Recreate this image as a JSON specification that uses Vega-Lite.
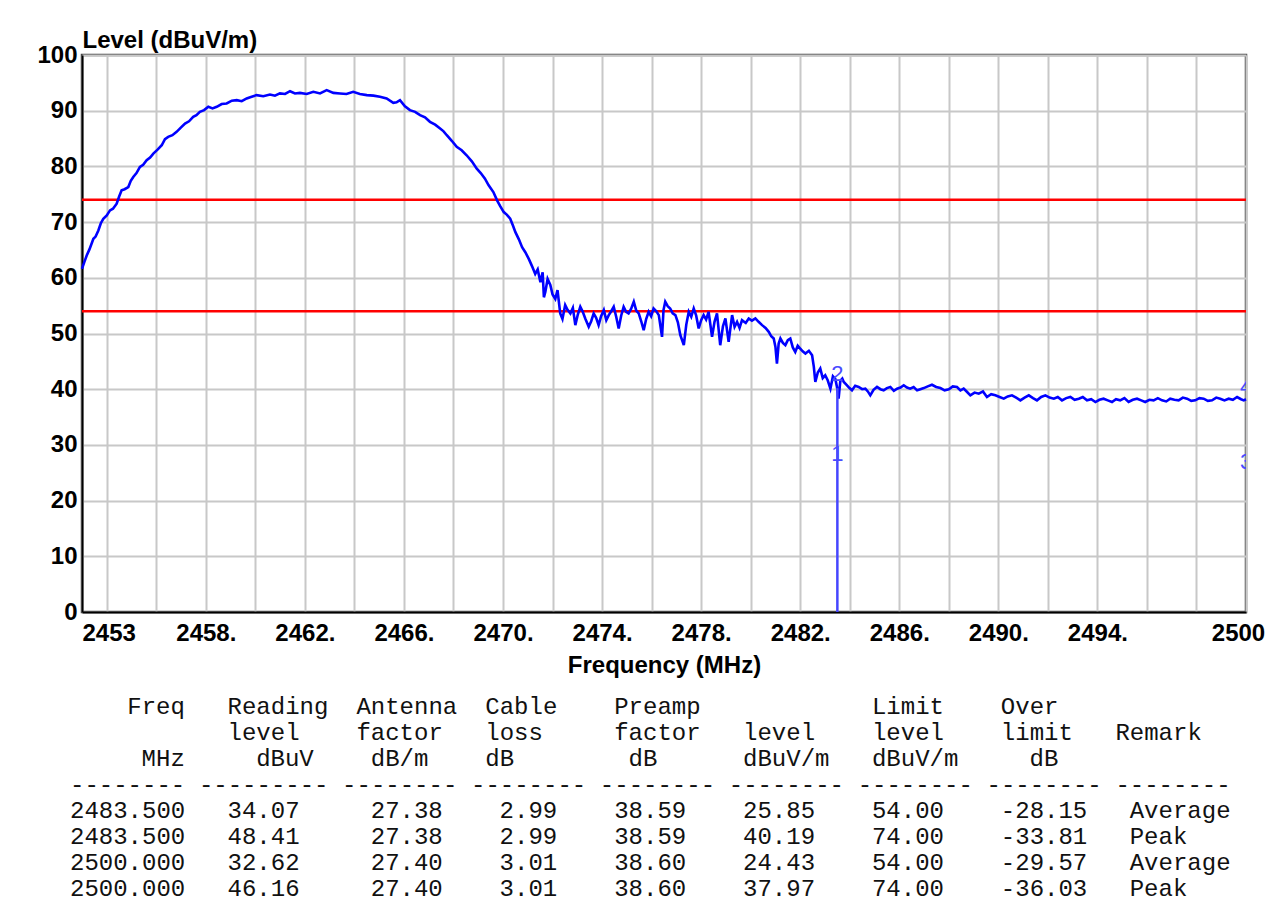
{
"$schema": "https://vega.github.io/schema/vega-lite/v6.json",
"background": "white",
"padding": {"left": 35, "top": 26, "right": 5, "bottom": 0},
"config": {"font": "Liberation Sans", "view": {"stroke": null}},
"spacing": 82,
"bounds": "flush",
"vconcat": [
{
"width": 1164, "height": 557,
"view": {"stroke": "#444444", "strokeWidth": 2.5},
"encoding": {
 "x": {"field": "freq", "type": "quantitative", "scale": {"domain": [2453, 2500], "nice": false, "zero": false},
  "axis": {"title": "Frequency (MHz)", "values": [2453,2454,2456,2458,2460,2462,2464,2466,2468,2470,2472,2474,2476,2478,2480,2482,2484,2486,2488,2490,2492,2494,2496,2498,2500],
   "labelExpr": "datum.value == 2453 || datum.value == 2500 ? format(datum.value, 'd') : (datum.value >= 2458 && datum.value <= 2494 && (datum.value - 2458) % 4 == 0 ? format(datum.value, 'd') + '.' : '')",
   "labelFlush": false, "labelOverlap": false, "labelBound": false,
   "labelAlign": {"condition": {"test": "datum.value == 2453", "value": "left"}, "value": "center"},
   "labelOffset": {"condition": {"test": "datum.value == 2500", "value": -8}, "value": 0},
   "ticks": false, "tickSize": 0, "labelPadding": 9,
   "labelFont": "Liberation Sans", "labelFontSize": 24, "labelFontWeight": "bold", "labelColor": "#000000",
   "titleFont": "Liberation Sans", "titleFontSize": 24, "titleFontWeight": "bold", "titleColor": "#000000", "titlePadding": 8,
   "grid": true, "gridColor": "#c8c8c8", "gridWidth": 2, "domainColor": "#000000", "domainWidth": 2}},
 "y": {"field": "level", "type": "quantitative", "scale": {"domain": [0, 100], "nice": false},
  "axis": {"title": "Level (dBuV/m)", "titleAngle": 0, "titleAlign": "left", "titleBaseline": "alphabetic", "titleX": 0, "titleY": -8,
   "values": [0,10,20,30,40,50,60,70,80,90,100], "ticks": false, "tickSize": 0, "labelPadding": 5,
   "labelFont": "Liberation Sans", "labelFontSize": 24, "labelFontWeight": "bold", "labelColor": "#000000",
   "titleFont": "Liberation Sans", "titleFontSize": 24, "titleFontWeight": "bold", "titleColor": "#000000",
   "grid": true, "gridColor": "#c8c8c8", "gridWidth": 2, "domainColor": "#000000", "domainWidth": 2}}
},
"layer": [
 {"data": {"values": [{"freq": 2453, "freq2": 2500, "level": 74}, {"freq": 2453, "freq2": 2500, "level": 54}]},
  "mark": {"type": "rule", "color": "#ff0000", "strokeWidth": 2.5},
  "encoding": {"x2": {"field": "freq2"}}},
 {"data": {"values": [
{"freq":2453.00,"level":61.6},{"freq":2453.10,"level":62.9},{"freq":2453.19,"level":64.0},{"freq":2453.30,"level":65.1},{"freq":2453.46,"level":67.0},{"freq":2453.55,"level":67.4},{"freq":2453.66,"level":68.5},{"freq":2453.76,"level":69.8},{"freq":2453.86,"level":70.6},{"freq":2454.00,"level":71.2},
{"freq":2454.13,"level":72.1},{"freq":2454.25,"level":72.4},{"freq":2454.40,"level":73.3},{"freq":2454.50,"level":74.6},{"freq":2454.60,"level":75.7},{"freq":2454.72,"level":75.9},{"freq":2454.87,"level":76.3},{"freq":2454.97,"level":77.4},{"freq":2455.07,"level":78.1},{"freq":2455.20,"level":78.8},
{"freq":2455.34,"level":79.9},{"freq":2455.47,"level":80.3},{"freq":2455.61,"level":81.1},{"freq":2455.75,"level":81.6},{"freq":2455.88,"level":82.3},{"freq":2456.05,"level":83.0},{"freq":2456.22,"level":83.8},{"freq":2456.35,"level":84.9},{"freq":2456.48,"level":85.3},{"freq":2456.65,"level":85.6},
{"freq":2456.82,"level":86.2},{"freq":2457.00,"level":87.0},{"freq":2457.16,"level":87.7},{"freq":2457.32,"level":88.1},{"freq":2457.49,"level":88.9},{"freq":2457.62,"level":89.2},{"freq":2457.76,"level":89.8},{"freq":2457.93,"level":90.1},{"freq":2458.10,"level":90.7},{"freq":2458.27,"level":90.4},
{"freq":2458.44,"level":90.7},{"freq":2458.64,"level":91.2},{"freq":2458.84,"level":91.3},{"freq":2459.05,"level":91.8},{"freq":2459.25,"level":91.9},{"freq":2459.45,"level":91.7},{"freq":2459.65,"level":92.2},{"freq":2459.85,"level":92.5},{"freq":2460.05,"level":92.8},{"freq":2460.32,"level":92.6},
{"freq":2460.59,"level":92.9},{"freq":2460.79,"level":92.7},{"freq":2460.99,"level":93.1},{"freq":2461.20,"level":93.0},{"freq":2461.40,"level":93.5},{"freq":2461.60,"level":93.1},{"freq":2461.80,"level":93.2},{"freq":2462.07,"level":93.0},{"freq":2462.34,"level":93.4},{"freq":2462.61,"level":93.1},
{"freq":2462.88,"level":93.7},{"freq":2463.15,"level":93.2},{"freq":2463.42,"level":93.1},{"freq":2463.68,"level":93.0},{"freq":2463.95,"level":93.4},{"freq":2464.22,"level":93.0},{"freq":2464.50,"level":92.8},{"freq":2464.77,"level":92.7},{"freq":2465.03,"level":92.5},{"freq":2465.30,"level":92.2},
{"freq":2465.57,"level":91.4},{"freq":2465.70,"level":91.5},{"freq":2465.84,"level":91.9},{"freq":2466.04,"level":90.8},{"freq":2466.24,"level":90.1},{"freq":2466.45,"level":89.8},{"freq":2466.65,"level":89.2},{"freq":2466.85,"level":88.8},{"freq":2467.05,"level":88.0},{"freq":2467.26,"level":87.5},
{"freq":2467.46,"level":86.8},{"freq":2467.60,"level":86.3},{"freq":2467.73,"level":85.6},{"freq":2467.93,"level":84.6},{"freq":2468.13,"level":83.5},{"freq":2468.33,"level":82.9},{"freq":2468.53,"level":82.0},{"freq":2468.74,"level":80.9},{"freq":2468.94,"level":79.6},{"freq":2469.10,"level":78.8},
{"freq":2469.27,"level":77.8},{"freq":2469.42,"level":76.6},{"freq":2469.61,"level":75.4},{"freq":2469.76,"level":73.9},{"freq":2469.88,"level":72.9},{"freq":2470.03,"level":71.8},{"freq":2470.16,"level":71.3},{"freq":2470.29,"level":70.6},{"freq":2470.40,"level":69.4},{"freq":2470.50,"level":68.2},
{"freq":2470.64,"level":66.9},{"freq":2470.77,"level":65.5},{"freq":2470.90,"level":64.6},{"freq":2471.04,"level":63.4},{"freq":2471.17,"level":62.1},{"freq":2471.30,"level":60.7},{"freq":2471.40,"level":61.5},{"freq":2471.51,"level":59.2},{"freq":2471.60,"level":61.0},{"freq":2471.65,"level":56.5},
{"freq":2471.71,"level":57.5},{"freq":2471.80,"level":59.8},{"freq":2471.91,"level":58.7},{"freq":2472.00,"level":57.0},{"freq":2472.11,"level":56.2},{"freq":2472.20,"level":57.8},{"freq":2472.31,"level":53.6},{"freq":2472.40,"level":52.6},{"freq":2472.51,"level":55.1},{"freq":2472.60,"level":54.3},
{"freq":2472.72,"level":53.6},{"freq":2472.82,"level":54.6},{"freq":2472.92,"level":51.5},{"freq":2473.02,"level":53.4},{"freq":2473.12,"level":54.8},{"freq":2473.22,"level":53.9},{"freq":2473.32,"level":52.7},{"freq":2473.46,"level":51.2},{"freq":2473.56,"level":52.2},{"freq":2473.66,"level":53.6},
{"freq":2473.76,"level":52.8},{"freq":2473.86,"level":51.5},{"freq":2473.96,"level":53.1},{"freq":2474.07,"level":54.2},{"freq":2474.17,"level":52.4},{"freq":2474.27,"level":53.3},{"freq":2474.37,"level":54.0},{"freq":2474.47,"level":54.8},{"freq":2474.57,"level":53.0},{"freq":2474.67,"level":50.9},
{"freq":2474.77,"level":53.2},{"freq":2474.87,"level":54.8},{"freq":2474.97,"level":53.9},{"freq":2475.07,"level":53.6},{"freq":2475.17,"level":54.4},{"freq":2475.28,"level":55.7},{"freq":2475.38,"level":54.1},{"freq":2475.48,"level":53.6},{"freq":2475.58,"level":52.2},{"freq":2475.68,"level":50.6},
{"freq":2475.78,"level":52.6},{"freq":2475.88,"level":53.9},{"freq":2475.98,"level":53.1},{"freq":2476.08,"level":54.5},{"freq":2476.19,"level":54.0},{"freq":2476.29,"level":53.3},{"freq":2476.42,"level":49.4},{"freq":2476.48,"level":54.2},{"freq":2476.55,"level":55.7},{"freq":2476.65,"level":54.9},
{"freq":2476.75,"level":54.5},{"freq":2476.85,"level":53.6},{"freq":2476.96,"level":53.3},{"freq":2477.06,"level":52.0},{"freq":2477.16,"level":49.7},{"freq":2477.30,"level":47.9},{"freq":2477.40,"level":51.6},{"freq":2477.50,"level":53.9},{"freq":2477.60,"level":53.0},{"freq":2477.70,"level":54.5},
{"freq":2477.80,"level":53.2},{"freq":2477.90,"level":50.9},{"freq":2478.00,"level":52.4},{"freq":2478.10,"level":53.3},{"freq":2478.20,"level":52.5},{"freq":2478.30,"level":53.9},{"freq":2478.44,"level":49.4},{"freq":2478.54,"level":52.1},{"freq":2478.64,"level":53.6},{"freq":2478.77,"level":47.9},
{"freq":2478.88,"level":51.3},{"freq":2478.98,"level":52.7},{"freq":2479.11,"level":48.5},{"freq":2479.25,"level":53.3},{"freq":2479.35,"level":51.2},{"freq":2479.45,"level":52.1},{"freq":2479.55,"level":51.0},{"freq":2479.65,"level":52.4},{"freq":2479.80,"level":51.9},{"freq":2479.92,"level":52.7},
{"freq":2480.05,"level":52.3},{"freq":2480.19,"level":52.7},{"freq":2480.32,"level":52.1},{"freq":2480.46,"level":51.5},{"freq":2480.60,"level":51.0},{"freq":2480.73,"level":50.3},{"freq":2480.83,"level":49.5},{"freq":2480.93,"level":49.1},{"freq":2481.00,"level":47.6},{"freq":2481.06,"level":44.6},
{"freq":2481.13,"level":48.2},{"freq":2481.20,"level":49.1},{"freq":2481.30,"level":48.3},{"freq":2481.40,"level":47.9},{"freq":2481.50,"level":48.8},{"freq":2481.60,"level":49.1},{"freq":2481.70,"level":47.5},{"freq":2481.80,"level":46.7},{"freq":2481.90,"level":47.8},{"freq":2482.00,"level":47.3},
{"freq":2482.10,"level":46.8},{"freq":2482.21,"level":46.4},{"freq":2482.35,"level":46.9},{"freq":2482.48,"level":46.1},{"freq":2482.55,"level":44.0},{"freq":2482.61,"level":41.3},{"freq":2482.71,"level":43.0},{"freq":2482.81,"level":43.7},{"freq":2482.91,"level":42.0},{"freq":2483.01,"level":42.5},
{"freq":2483.11,"level":41.6},{"freq":2483.22,"level":40.1},{"freq":2483.32,"level":42.3},{"freq":2483.42,"level":41.8},{"freq":2483.48,"level":40.5},{"freq":2483.55,"level":38.3},{"freq":2483.62,"level":41.5},{"freq":2483.70,"level":41.9},{"freq":2483.76,"level":41.3},{"freq":2483.89,"level":40.7},
{"freq":2483.99,"level":40.2},{"freq":2484.09,"level":39.8},{"freq":2484.22,"level":40.6},{"freq":2484.36,"level":40.4},{"freq":2484.50,"level":40.0},{"freq":2484.63,"level":40.1},{"freq":2484.73,"level":39.6},{"freq":2484.83,"level":38.9},{"freq":2484.96,"level":39.9},{"freq":2485.10,"level":40.4},
{"freq":2485.24,"level":40.0},{"freq":2485.37,"level":39.8},{"freq":2485.50,"level":40.2},{"freq":2485.64,"level":40.4},{"freq":2485.78,"level":39.7},{"freq":2485.91,"level":40.1},{"freq":2486.05,"level":40.3},{"freq":2486.18,"level":40.7},{"freq":2486.31,"level":40.3},{"freq":2486.44,"level":40.1},
{"freq":2486.58,"level":40.4},{"freq":2486.72,"level":39.8},{"freq":2486.85,"level":40.0},{"freq":2486.99,"level":40.2},{"freq":2487.15,"level":40.5},{"freq":2487.32,"level":40.8},{"freq":2487.49,"level":40.4},{"freq":2487.66,"level":40.2},{"freq":2487.83,"level":39.8},{"freq":2488.00,"level":40.0},
{"freq":2488.16,"level":40.5},{"freq":2488.33,"level":40.4},{"freq":2488.47,"level":39.8},{"freq":2488.60,"level":40.1},{"freq":2488.74,"level":39.5},{"freq":2488.87,"level":38.9},{"freq":2489.04,"level":39.4},{"freq":2489.21,"level":39.2},{"freq":2489.38,"level":39.6},{"freq":2489.54,"level":38.6},
{"freq":2489.71,"level":39.1},{"freq":2489.88,"level":38.9},{"freq":2490.05,"level":38.6},{"freq":2490.22,"level":38.3},{"freq":2490.38,"level":38.7},{"freq":2490.55,"level":38.9},{"freq":2490.72,"level":38.5},{"freq":2490.89,"level":38.0},{"freq":2491.06,"level":38.5},{"freq":2491.23,"level":38.9},
{"freq":2491.40,"level":38.4},{"freq":2491.56,"level":38.0},{"freq":2491.73,"level":38.6},{"freq":2491.90,"level":38.9},{"freq":2492.07,"level":38.5},{"freq":2492.24,"level":38.3},{"freq":2492.40,"level":38.6},{"freq":2492.57,"level":38.0},{"freq":2492.74,"level":38.4},{"freq":2492.91,"level":38.6},
{"freq":2493.08,"level":38.1},{"freq":2493.25,"level":38.3},{"freq":2493.41,"level":38.6},{"freq":2493.58,"level":38.0},{"freq":2493.75,"level":38.2},{"freq":2493.92,"level":37.7},{"freq":2494.08,"level":38.1},{"freq":2494.25,"level":38.3},{"freq":2494.42,"level":38.0},{"freq":2494.59,"level":37.7},
{"freq":2494.75,"level":38.2},{"freq":2494.92,"level":38.0},{"freq":2495.09,"level":38.4},{"freq":2495.26,"level":37.7},{"freq":2495.43,"level":38.1},{"freq":2495.60,"level":38.3},{"freq":2495.77,"level":38.0},{"freq":2495.93,"level":37.7},{"freq":2496.10,"level":38.1},{"freq":2496.27,"level":38.0},
{"freq":2496.44,"level":38.4},{"freq":2496.61,"level":38.0},{"freq":2496.78,"level":37.8},{"freq":2496.94,"level":38.3},{"freq":2497.11,"level":38.1},{"freq":2497.28,"level":38.0},{"freq":2497.45,"level":38.5},{"freq":2497.62,"level":38.3},{"freq":2497.79,"level":37.9},{"freq":2497.95,"level":38.0},
{"freq":2498.12,"level":38.4},{"freq":2498.29,"level":38.3},{"freq":2498.46,"level":37.9},{"freq":2498.63,"level":38.0},{"freq":2498.80,"level":38.5},{"freq":2498.96,"level":38.3},{"freq":2499.13,"level":38.0},{"freq":2499.30,"level":38.3},{"freq":2499.47,"level":38.1},{"freq":2499.64,"level":38.6},
{"freq":2499.80,"level":38.2},{"freq":2499.91,"level":38.0},{"freq":2500.00,"level":38.2}
 ]},
  "mark": {"type": "line", "color": "#0000ff", "strokeWidth": 2.6}},
 {"data": {"values": [{"freq": 2483.5, "level": 0, "level2": 40.19}]},
  "mark": {"type": "rule", "color": "#4646ff", "strokeWidth": 2.5},
  "encoding": {"y2": {"field": "level2"}}},
 {"data": {"values": [{"freq": 2483.5, "level": 25.85, "label": "1"}, {"freq": 2483.5, "level": 40.19, "label": "2"}, {"freq": 2500, "level": 24.43, "label": "3"}, {"freq": 2500, "level": 37.97, "label": "4"}]},
  "mark": {"type": "text", "color": "#4a4aff", "fontSize": 22, "font": "Liberation Sans", "baseline": "bottom", "align": "center", "clip": true, "dy": -2},
  "encoding": {"text": {"field": "label"}}}
]
},
{
"width": 1164, "height": 208,
"view": {"stroke": null},
"data": {"values": [
{"row":0,"col":4,"t":"Freq"},{"row":0,"col":11,"t":"Reading"},{"row":0,"col":20,"t":"Antenna"},{"row":0,"col":29,"t":"Cable"},{"row":0,"col":38,"t":"Preamp"},{"row":0,"col":56,"t":"Limit"},{"row":0,"col":65,"t":"Over"},
{"row":1,"col":11,"t":"level"},{"row":1,"col":20,"t":"factor"},{"row":1,"col":29,"t":"loss"},{"row":1,"col":38,"t":"factor"},{"row":1,"col":47,"t":"level"},{"row":1,"col":56,"t":"level"},{"row":1,"col":65,"t":"limit"},{"row":1,"col":73,"t":"Remark"},
{"row":2,"col":5,"t":"MHz"},{"row":2,"col":13,"t":"dBuV"},{"row":2,"col":21,"t":"dB/m"},{"row":2,"col":29,"t":"dB"},{"row":2,"col":39,"t":"dB"},{"row":2,"col":47,"t":"dBuV/m"},{"row":2,"col":56,"t":"dBuV/m"},{"row":2,"col":67,"t":"dB"},
{"row":3,"col":0,"t":"--------"},{"row":3,"col":9,"t":"---------"},{"row":3,"col":19,"t":"--------"},{"row":3,"col":28,"t":"--------"},{"row":3,"col":37,"t":"--------"},{"row":3,"col":46,"t":"--------"},{"row":3,"col":55,"t":"--------"},{"row":3,"col":64,"t":"--------"},{"row":3,"col":73,"t":"--------"},
{"row":4,"col":0,"t":"2483.500"},{"row":4,"col":11,"t":"34.07"},{"row":4,"col":21,"t":"27.38"},{"row":4,"col":30,"t":"2.99"},{"row":4,"col":38,"t":"38.59"},{"row":4,"col":47,"t":"25.85"},{"row":4,"col":56,"t":"54.00"},{"row":4,"col":65,"t":"-28.15"},{"row":4,"col":74,"t":"Average"},
{"row":5,"col":0,"t":"2483.500"},{"row":5,"col":11,"t":"48.41"},{"row":5,"col":21,"t":"27.38"},{"row":5,"col":30,"t":"2.99"},{"row":5,"col":38,"t":"38.59"},{"row":5,"col":47,"t":"40.19"},{"row":5,"col":56,"t":"74.00"},{"row":5,"col":65,"t":"-33.81"},{"row":5,"col":74,"t":"Peak"},
{"row":6,"col":0,"t":"2500.000"},{"row":6,"col":11,"t":"32.62"},{"row":6,"col":21,"t":"27.40"},{"row":6,"col":30,"t":"3.01"},{"row":6,"col":38,"t":"38.60"},{"row":6,"col":47,"t":"24.43"},{"row":6,"col":56,"t":"54.00"},{"row":6,"col":65,"t":"-29.57"},{"row":6,"col":74,"t":"Average"},
{"row":7,"col":0,"t":"2500.000"},{"row":7,"col":11,"t":"46.16"},{"row":7,"col":21,"t":"27.40"},{"row":7,"col":30,"t":"3.01"},{"row":7,"col":38,"t":"38.60"},{"row":7,"col":47,"t":"37.97"},{"row":7,"col":56,"t":"74.00"},{"row":7,"col":65,"t":"-36.03"},{"row":7,"col":74,"t":"Peak"}
]},
"mark": {"type": "text", "align": "left", "baseline": "middle", "font": "Liberation Mono", "fontSize": 24, "color": "#111111"},
"encoding": {
 "x": {"field": "col", "type": "quantitative", "scale": {"domain": [0.838, 82.12], "nice": false, "zero": false}, "axis": null},
 "y": {"field": "row", "type": "quantitative", "scale": {"domain": [-0.5, 7.5], "nice": false, "zero": false, "reverse": true}, "axis": null},
 "text": {"field": "t"}
}
}
]
}
